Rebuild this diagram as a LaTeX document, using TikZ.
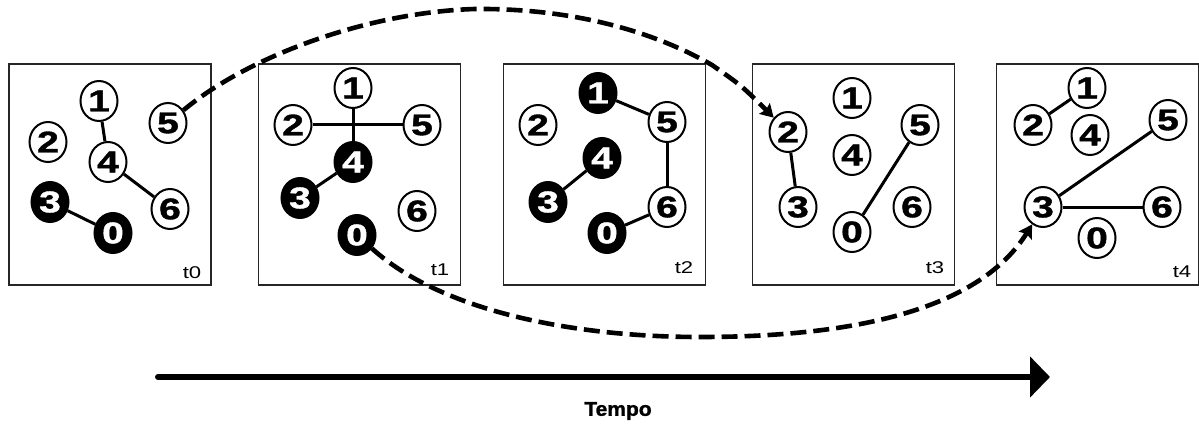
\documentclass[tikz,border=0pt]{standalone}
\usepackage{fontspec}
\usepackage{graphicx}
\setmainfont{Liberation Sans}
\newfontfamily\digits[FakeBold=1.2]{Liberation Sans Bold}
\usetikzlibrary{shapes.geometric,arrows.meta}
\newcommand\sx[1]{\scalebox{1.3}[1]{#1}}
\tikzset{
  vw/.style={ellipse, draw=black, line width=2pt, fill=white,
    minimum width=37pt, minimum height=40pt, inner sep=0pt,
    font=\digits\fontsize{30}{30}\selectfont},
  vb/.style={vw, fill=black, text=white},
  link/.style={line width=3pt, black},
  panel/.style={draw=black!85, line width=1.6pt, minimum width=202pt,
    minimum height=221pt, inner sep=0pt},
  tlabel/.style={font=\fontsize{17}{17}\selectfont, inner sep=0pt},
  jump/.style={line width=4.6pt, dash pattern=on 16pt off 7pt,
    -{Stealth[length=13pt,width=15pt,inset=2pt]}},
}
\begin{document}
\begin{tikzpicture}[x=1pt,y=-1pt]
\useasboundingbox (0,0) rectangle (1199,425);

% frames of the five snapshots
\node[panel] (f0) at (110,174.5) {};
\node[panel] (f1) at (359.5,174.5) {};
\node[panel] (f2) at (604.5,174.5) {};
\node[panel] (f3) at (853.5,174.5) {};
\node[panel] (f4) at (1097.5,174.5) {};

% t0
\node[vw] (a1) at (99,101) {\sx1};
\node[vw] (a2) at (48,142) {\sx2};
\node[vw] (a4) at (108,162) {\sx4};
\node[vw] (a5) at (168,123) {\sx5};
\node[vb] (a3) at (50,202) {\sx3};
\node[vw] (a6) at (170,209) {\sx6};
\node[vb] (a0) at (113,233) {\sx0};
\draw[link] (a1) -- (a4);
\draw[link] (a4) -- (a6);
\draw[link] (a3) -- (a0);
\node[tlabel] (l0) at (192,273) {\sx{t0}};

% t1
\node[vw] (b1) at (353,88) {\sx1};
\node[vw] (b2) at (293,125) {\sx2};
\node[vw] (b5) at (422,125) {\sx5};
\node[vb] (b4) at (353,162) {\sx4};
\node[vb] (b3) at (300,198) {\sx3};
\node[vw] (b6) at (417,211) {\sx6};
\node[vb] (b0) at (357,235) {\sx0};
\draw[link] (b2) -- (b5);
\draw[link] (b1) -- (b4);
\draw[link] (b4) -- (b3);
\node[tlabel] (l1) at (440,270) {\sx{t1}};

% t2
\node[vb] (c1) at (598,93) {\sx1};
\node[vw] (c2) at (538,125) {\sx2};
\node[vw] (c5) at (667,122) {\sx5};
\node[vb] (c4) at (602,158) {\sx4};
\node[vb] (c3) at (548,202) {\sx3};
\node[vw] (c6) at (667,207) {\sx6};
\node[vb] (c0) at (607,233) {\sx0};
\draw[link] (c1) -- (c5);
\draw[link] (c5) -- (c6);
\draw[link] (c4) -- (c3);
\draw[link] (c0) -- (c6);
\node[tlabel] (l2) at (684,268) {\sx{t2}};

% t3
\node[vw] (d1) at (852,98) {\sx1};
\node[vw] (d2) at (788,132) {\sx2};
\node[vw] (d5) at (920,125) {\sx5};
\node[vw] (d4) at (852,155) {\sx4};
\node[vw] (d3) at (798,207) {\sx3};
\node[vw] (d6) at (912,207) {\sx6};
\node[vw] (d0) at (852,232) {\sx0};
\draw[link] (d2) -- (d3);
\draw[link] (d0) -- (d5);
\node[tlabel] (l3) at (935,268) {\sx{t3}};

% t4
\node[vw] (e1) at (1087,88) {\sx1};
\node[vw] (e2) at (1033,125) {\sx2};
\node[vw] (e4) at (1090,135) {\sx4};
\node[vw] (e5) at (1168,120) {\sx5};
\node[vw] (e3) at (1043,207) {\sx3};
\node[vw] (e6) at (1162,207) {\sx6};
\node[vw] (e0) at (1097,238) {\sx0};
\draw[link] (e1) -- (e2);
\draw[link] (e3) -- (e5);
\draw[link] (e3) -- (e6);
\node[tlabel] (l4) at (1182,272) {\sx{t4}};

% long-range jumps between snapshots
\coordinate (k1) at (475,9);
\coordinate (k2) at (712,65);
\draw[jump] (a5) .. controls (250,55) and (370,12) .. (k1)
  .. controls (580,8) and (660,35) .. (k2)
  .. controls (742,86) .. (d2);
\coordinate (k3) at (700,337);
\draw[jump] (b0) .. controls (440,310) and (570,337) .. (k3)
  .. controls (880,337) and (985,300) .. (e3);

% time axis
\coordinate (ts) at (158,377);
\coordinate (te) at (1050,377);
\draw[line width=6pt, line cap=round, -{Triangle[length=20pt,width=40pt]}] (ts) -- (te);
\node[font=\digits\fontsize{20}{20}\selectfont] (tempo) at (618,411) {\scalebox{1.05}[1]{Tempo}};
\end{tikzpicture}
\end{document}
